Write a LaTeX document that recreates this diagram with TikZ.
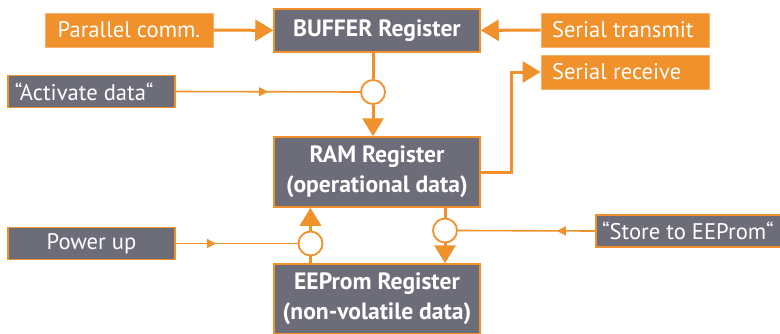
\documentclass[tikz,border=0pt]{standalone}
\usepackage{fontspec}
\setmainfont{PT Sans}
\usetikzlibrary{arrows.meta,decorations.markings}
\definecolor{accent}{HTML}{F0912B}
\definecolor{slate}{HTML}{6C6D79}
\newcommand{\leftpad}[2]{\makebox[#1][l]{#2}}
\tikzset{
  labelfont/.style={font=\fontsize{22.6}{24}\selectfont},
  srcbox/.style={rectangle, fill=accent, draw=accent!70!white, line width=0.8pt,
    text=white, inner sep=0pt, minimum width=168pt, minimum height=34pt,
    labelfont},
  sigbox/.style={rectangle, fill=slate, draw=accent, line width=1.5pt,
    text=white, inner sep=0pt, minimum height=32pt, labelfont},
  regbox/.style={rectangle, fill=slate, draw=accent, line width=1.5pt,
    text=white, inner sep=0pt, minimum width=206pt, align=center,
    font=\bfseries\fontsize{23.6}{30}\selectfont},
  gate/.style={circle, draw=accent, fill=white, line width=1.8pt,
    minimum size=24pt, inner sep=0pt},
  bus/.style={draw=accent, line width=3pt,
    -{Triangle[length=18pt,width=21pt]}},
  busplain/.style={draw=accent, line width=3pt},
  ctrl/.style={draw=accent, line width=1.6pt, postaction={decorate},
    decoration={markings, mark=at position #1 with
      {\arrow{Triangle[length=9pt,width=9pt]}}}},
}
\begin{document}
\begin{tikzpicture}[x=1pt,y=-1pt]
\useasboundingbox (0,0) rectangle (780,333);

% registers
\node[regbox, minimum height=43pt] (buf) at (377,30.5) {BUFFER Register};
\node[regbox, minimum height=70pt] (ram) at (377,172) {RAM Register\\(operational data)};
\node[regbox, minimum height=70pt] (eep) at (377,299) {EEProm Register\\(non-volatile data)};

% serial / parallel ports
\node[srcbox] (par) at (129,30) {Parallel comm.};
\node[srcbox] (stx) at (625,30) {\leftpad{146pt}{Serial transmit}};
\node[srcbox] (srx) at (625,72) {\leftpad{146pt}{Serial receive}};

% control signals
\node[sigbox, minimum width=167pt] (act) at (91.5,91.5) {\leftpad{153pt}{“Activate data“}};
\node[sigbox, minimum width=167pt] (pwr) at (91.5,243.5) {Power up};
\node[sigbox, minimum width=186pt] (sto) at (689,231) {\leftpad{174pt}{“Store to EEProm“}};

% gates
\node[gate] (g1) at (373,92) {};
\node[gate] (g2) at (310.5,243.5) {};
\node[gate] (g3) at (445,230.5) {};

% data paths
\draw[bus] (par) -- (buf);
\draw[bus] (stx) -- (buf);
\coordinate (rr) at (511,172);
\draw[bus] (ram.east) -- (rr) |- (srx.west);

\draw[busplain] (buf.south -| g1) -- (g1.north);
\draw[bus] (g1.south) -- (g1.south |- ram.north);

\draw[busplain] (eep.north -| g2) -- (g2.south);
\draw[bus] (g2.north) -- (g2.north |- ram.south);

\draw[busplain] (ram.south -| g3) -- (g3.north);
\draw[bus] (g3.south) -- (g3.south |- eep.north);

% control lines
\draw[ctrl=0.5] (act.east) -- (g1.west);
\draw[ctrl=0.33] (pwr.east) -- (g2.west);
\draw[ctrl=0.28] (sto.west) -- (g3.east);
\end{tikzpicture}
\end{document}
